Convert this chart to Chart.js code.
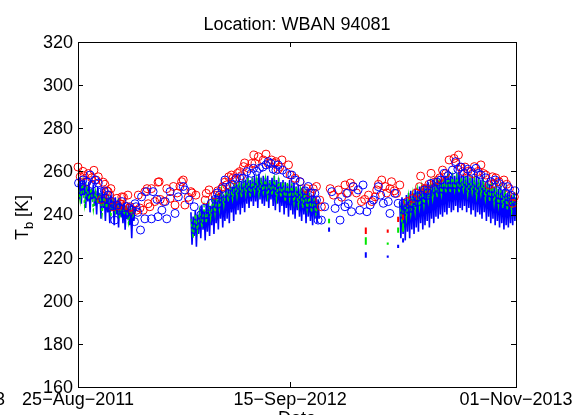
<!DOCTYPE html>
<html lang="en">
<head>
  <meta charset="UTF-8">
  <title>Location: WBAN 94081</title>
  <script src="https://cdn.jsdelivr.net/npm/chart.js"></script>
  <style>
    body { margin: 0; background: #fff; }
    #tbChart { display: block; }
  </style>
</head>
<body>
  <canvas id="tbChart" width="573" height="415"></canvas>
  <script>
    // days are counted from 25-Aug-2011, Tb in kelvin
    const xTickDays = [0, 387, 799];
    const xTickLabels = ['25−Aug−2011', '15−Sep−2012', '01−Nov−2013'];
    const yTicks = [160, 180, 200, 220, 240, 260, 280, 300, 320];

    // continuous record (blue), one value every 2 days, three runs
    const blueStep = 2;
    const blueStartA = 0, blueStartB = 206, blueStartC = 587;
    const blueTbA = [255, 247, 257, 245, 254, 249, 256, 243, 253, 246,
      255, 241, 252, 247, 254, 244, 251, 240, 253, 245,
      250, 238, 252, 243, 249, 237, 250, 241, 248, 236,
      249, 242, 247, 235, 248, 240, 246, 234, 247, 239,
      245, 236, 246, 233, 244, 238, 245, 235, 243, 229,
      244, 237, 243];
    const blueTbB = [241, 226, 239, 230, 242, 225, 240, 231,
      243, 229, 244, 233, 242, 228, 245, 232, 246, 230, 244, 235,
      248, 231, 249, 236, 247, 233, 250, 238, 251, 234, 249, 237,
      253, 238, 252, 236, 254, 241, 253, 237, 255, 240, 254, 242,
      256, 240, 255, 243, 257, 241, 256, 245, 258, 243, 256, 246,
      257, 244, 258, 246, 257, 243, 259, 247, 257, 245, 258, 244,
      257, 246, 258, 243, 256, 247, 257, 244, 258, 242, 256, 245,
      257, 241, 255, 244, 256, 240, 255, 243, 254, 239, 256, 242,
      254, 240, 255, 238, 253, 242, 254, 239, 252, 237, 253, 240,
      251, 236, 252, 239, 250, 237, 249, 235, 250, 238, 248, 236,
      247, 238];
    const blueTbC = [246, 229, 248, 231, 247, 228, 249, 232, 250, 229, 251, 233,
      250, 231, 252, 234, 251, 232, 253, 236, 252, 233, 254, 235,
      253, 237, 255, 234, 254, 238, 256, 236, 255, 239, 257, 238,
      256, 240, 258, 239, 257, 241, 258, 240, 259, 243, 258, 241,
      259, 242, 258, 244, 259, 241, 260, 243, 258, 242, 259, 244,
      258, 241, 259, 243, 257, 240, 258, 242, 257, 239, 258, 241,
      257, 240, 256, 238, 257, 241, 255, 237, 256, 239, 254, 236,
      255, 238, 253, 235, 254, 237, 252, 234, 253, 236, 251, 233,
      252, 235, 250, 234, 251, 236, 249, 235, 250, 237, 248];

    // green dashed record, one value every 4 days
    const greenStep = 4;
    const greenStartA = 0, greenStartB = 206, greenStartC = 587;
    const greenTbA = [254, 246, 255, 244, 253, 247, 252, 242, 251, 245,
      250, 240, 249, 243, 248, 239, 247, 241, 246, 238,
      245, 240, 244, 236, 243, 239, 242];
    const greenTbB = [238, 229, 240, 232, 242, 234, 244, 236, 246, 238, 248,
      240, 250, 242, 252, 244, 253, 246, 254, 247, 255, 248,
      256, 248, 256, 249, 257, 248, 256, 250, 257, 249, 256,
      250, 257, 248, 256, 249, 257, 247, 256, 248, 255, 246,
      255, 247, 254, 245, 253, 244, 252, 243, 251, 242, 249,
      241, 248, 240, 246];
    const greenTbC = [245, 236, 247, 238, 249, 240, 250, 241, 252, 243, 253,
      244, 254, 246, 255, 247, 256, 248, 257, 249, 257, 250,
      258, 250, 258, 251, 258, 250, 257, 251, 258, 249, 257,
      250, 257, 248, 256, 249, 256, 247, 255, 246, 255, 245,
      254, 244, 253, 243, 252, 242, 251, 241, 250, 243];

    // isolated days inside the data gap
    const spikeDays = [458, 525, 565, 584, 593];
    const redSpikeHi = [null, 234, 233, 239, 240];
    const redSpikeLo = [null, 231, 231.5, 236.5, 237.5];
    const greenSpikeHi = [238, 229.5, 227, 234, 236];
    const greenSpikeLo = [236, 226, 226, 231.5, 232];
    const blueSpikeHi = [234, 222.5, 221, 226, 229];
    const blueSpikeLo = [232, 220, 220, 224.5, 227];

    // red circles
    const redDays = [0, 4, 9, 11, 16, 19, 25, 29, 33, 37,
      43, 46, 49, 53, 55, 58, 60, 64, 71, 74,
      77, 80, 83, 86, 91, 93, 95, 98, 107, 110,
      113, 119, 122, 126, 128, 131, 134, 140, 146, 148,
      150, 156, 162, 168, 174, 177, 181, 186, 189, 192,
      195, 201, 206, 208, 215, 232, 234, 239, 250, 255,
      262, 264, 268, 271, 275, 280, 283, 286, 291, 295,
      298, 302, 304, 311, 317, 321, 323, 329, 338, 343,
      347, 353, 359, 361, 365, 368, 372, 384, 387, 396,
      405, 417, 423, 429, 435, 441, 444, 460, 466, 475,
      481, 487, 492, 497, 502, 508, 517, 523, 530, 536,
      542, 545, 548, 554, 560, 563, 569, 572, 577, 581,
      587, 601, 611, 617, 623, 625, 632, 636, 640, 644,
      650, 657, 660, 665, 671, 677, 686, 689, 694, 697,
      702, 706, 711, 720, 723, 730, 735, 740, 744, 750,
      756, 759, 762, 768, 777, 782, 787, 793, 796];
    const redTb = [262, 257.5, 260, 258, 255, 259, 257, 260.5, 256, 257.5,
      247, 255, 254, 251, 250.6, 249, 252, 243.6, 247.5, 244,
      245, 248.2, 248, 244, 249, 243, 243.6, 242, 242, 249,
      243, 242, 250.6, 252, 245, 243.6, 252, 246, 255, 255.2,
      247, 246, 252, 247.5, 253, 244.4, 250, 253, 255.2, 256,
      244.4, 248, 250.6, 250, 249, 246.7, 249.8, 251.4, 249, 251,
      252, 252.9, 255, 253.7, 257.5, 258.3, 257, 256, 259.1, 259.9,
      258, 262.2, 263.9, 261.4, 263.7, 267.6, 263.7, 266.8, 265.3, 268,
      263.7, 265.3, 263.7, 264.5, 261, 262, 265.3, 263, 258.3, 256.8,
      255.2, 252, 250, 252, 253, 246.7, 243.6, 252, 249, 251.4,
      248, 253.7, 250, 254.6, 253, 250, 246, 247, 249, 246,
      248.2, 251.4, 254, 256, 253, 250, 252, 255.2, 251, 249.8,
      253.7, 246, 247.5, 250, 252.9, 257.8, 252, 252, 254, 259.1,
      255, 256, 257, 260.6, 259, 265.3, 266, 263.7, 267.6, 262,
      259.9, 262, 260, 259, 262.2, 260, 263, 259, 258.3, 253.7,
      257.5, 254.4, 257, 255.2, 256, 254, 252, 245.2, 248.2];

    // blue circles
    const blueDays = [1, 7, 9, 16, 22, 26, 31, 37, 43, 48,
      50, 55, 61, 63, 67, 71, 75, 80, 86, 89,
      98, 103, 104, 106, 109, 114, 116, 122, 125, 134,
      137, 144, 146, 153, 159, 162, 168, 177, 183, 192,
      195, 203, 212, 224, 230, 243, 250, 254, 258, 263,
      268, 277, 282, 289, 295, 300, 308, 316, 320, 326,
      331, 337, 343, 347, 352, 356, 361, 365, 373, 381,
      390, 396, 405, 414, 420, 426, 432, 435, 438, 444,
      450, 463, 469, 475, 478, 487, 490, 493, 499, 502,
      511, 514, 520, 527, 533, 539, 548, 552, 557, 566,
      569, 578, 584, 593, 600, 609, 619, 626, 632, 638,
      644, 650, 655, 662, 668, 675, 683, 689, 693, 699,
      705, 711, 717, 726, 730, 735, 744, 753, 761, 768,
      775, 780, 784, 790, 793, 797];
    const blueTb = [254.6, 253.7, 256, 255.2, 258.3, 254, 256, 254.6, 250.6, 251,
      247.5, 249, 246, 244, 237.4, 244.4, 243, 246, 239.8, 243.6,
      242, 236.7, 245, 243.6, 241, 232.8, 248.2, 238, 250.6, 238,
      250.6, 247, 239, 242, 246, 238, 250.6, 240.5, 248.2, 253,
      251.4, 246.7, 243.6, 239.8, 242.8, 245.2, 247, 250, 249, 252,
      256, 253, 254, 256.8, 257, 256.8, 259.9, 259.1, 261.4, 260,
      261.4, 262, 263, 264.5, 263.7, 261, 260.5, 263, 260.6, 259,
      258.3, 256, 255.2, 251, 253, 250, 249.8, 246.7, 237.4, 237.4,
      243.6, 250.6, 242.8, 246, 237.4, 243.6, 249.8, 245, 241.3, 252.9,
      251.4, 242, 253.7, 241.3, 244.4, 246.7, 252.9, 249, 245.2, 246,
      240.5, 249.8, 245.2, 245.2, 242.8, 245, 248.2, 249, 251.4, 250,
      254.4, 252, 255, 256, 259.1, 258, 260.6, 264.5, 261, 262,
      259.1, 261, 260, 261.4, 259, 258.3, 257, 255.2, 256, 254.4,
      253, 250, 252.9, 249, 246, 251];

    const FONT = '"Liberation Sans", Arial, Helvetica, sans-serif';

    function runPoints(runs) {
      const pts = [];
      runs.forEach(([start, step, values]) => {
        values.forEach((v, i) => pts.push({ x: start + i * step, y: v }));
        pts.push({ x: pts[pts.length - 1].x, y: null });
      });
      return pts;
    }

    function spikePoints(hi, lo) {
      const pts = [];
      spikeDays.forEach((d, i) => {
        if (hi[i] == null) return;
        pts.push({ x: d, y: hi[i] }, { x: d, y: lo[i] }, { x: d, y: null });
      });
      return pts;
    }

    function circlePoints(days, values) {
      return days.map((d, i) => ({ x: d, y: values[i] }));
    }

    // frame, inward ticks and all the text, MATLAB style
    const axesFrame = {
      id: 'axesFrame',
      afterDraw(chart) {
        const { ctx, chartArea: a, scales: { x, y } } = chart;
        ctx.save();
        ctx.strokeStyle = '#000';
        ctx.lineWidth = 1;
        ctx.strokeRect(a.left + 0.5, a.top + 0.5, a.right - a.left, a.bottom - a.top);
        ctx.beginPath();
        yTicks.forEach(v => {
          const py = Math.round(y.getPixelForValue(v)) + 0.5;
          ctx.moveTo(a.left, py); ctx.lineTo(a.left + 5, py);
          ctx.moveTo(a.right, py); ctx.lineTo(a.right - 5, py);
        });
        xTickDays.forEach(d => {
          const px = Math.round(x.getPixelForValue(d)) + 0.5;
          ctx.moveTo(px, a.bottom); ctx.lineTo(px, a.bottom - 5);
          ctx.moveTo(px, a.top); ctx.lineTo(px, a.top + 5);
        });
        ctx.stroke();

        ctx.fillStyle = '#000';
        ctx.font = '18px ' + FONT;
        ctx.textAlign = 'right';
        ctx.textBaseline = 'middle';
        yTicks.forEach(v => ctx.fillText(String(v), a.left - 5, y.getPixelForValue(v) + 1));

        ctx.textAlign = 'center';
        ctx.textBaseline = 'top';
        xTickDays.forEach((d, i) => ctx.fillText(xTickLabels[i], x.getPixelForValue(d), a.bottom + 4));
        ctx.textAlign = 'right';
        ctx.fillText('3', 5, a.bottom + 4);
        ctx.textAlign = 'center';
        ctx.fillText('Date', (a.left + a.right) / 2, a.bottom + 23);

        ctx.textBaseline = 'alphabetic';
        ctx.fillText('Location: WBAN 94081', (a.left + a.right) / 2, 30);

        // y label with subscript
        ctx.translate(28, (a.top + a.bottom) / 2 + 3);
        ctx.rotate(-Math.PI / 2);
        ctx.textAlign = 'left';
        const big = '18px ' + FONT, small = '13px ' + FONT;
        ctx.font = big;
        const wT = ctx.measureText('T').width, wK = ctx.measureText(' [K]').width;
        ctx.font = small;
        const wb = ctx.measureText('b').width;
        const sx = -(wT + wb + wK) / 2;
        ctx.font = big; ctx.fillText('T', sx, 0);
        ctx.font = small; ctx.fillText('b', sx + wT, 5);
        ctx.font = big; ctx.fillText(' [K]', sx + wT + wb, 0);
        ctx.restore();
      }
    };

    const lineBase = { type: 'line', showLine: true, pointRadius: 0, spanGaps: false, tension: 0, fill: false };
    const circleBase = { pointStyle: 'circle', pointRadius: 4, pointBorderWidth: 1, pointBackgroundColor: 'rgba(0,0,0,0)', showLine: false, clip: false };

    new Chart(document.getElementById('tbChart'), {
      type: 'scatter',
      data: {
        datasets: [
          { ...circleBase, label: 'blue circles', data: circlePoints(blueDays, blueTb), pointBorderColor: '#0000ff', order: 1 },
          { ...circleBase, label: 'red circles', data: circlePoints(redDays, redTb), pointBorderColor: '#ff0000', order: 2 },
          { ...lineBase, label: 'red gap', data: spikePoints(redSpikeHi, redSpikeLo), borderColor: '#ff0000', borderWidth: 2, order: 3 },
          { ...lineBase, label: 'green gap', data: spikePoints(greenSpikeHi, greenSpikeLo), borderColor: '#00e600', borderWidth: 2, order: 3 },
          { ...lineBase, label: 'blue gap', data: spikePoints(blueSpikeHi, blueSpikeLo), borderColor: '#0000ff', borderWidth: 2, order: 3 },
          { ...lineBase, label: 'green', borderColor: '#00e600', borderWidth: 1.3, borderDash: [3, 2], order: 4,
            data: runPoints([[greenStartA, greenStep, greenTbA], [greenStartB, greenStep, greenTbB], [greenStartC, greenStep, greenTbC]]) },
          { ...lineBase, label: 'blue', borderColor: '#0000ff', borderWidth: 1.6, order: 5,
            data: runPoints([[blueStartA, blueStep, blueTbA], [blueStartB, blueStep, blueTbB], [blueStartC, blueStep, blueTbC]]) }
        ]
      },
      options: {
        responsive: false,
        animation: false,
        devicePixelRatio: 1,
        layout: { padding: { left: 78, right: 57, top: 42, bottom: 28 } },
        plugins: { legend: { display: false }, tooltip: { enabled: false } },
        scales: {
          x: { type: 'linear', min: 0, max: 799, display: false },
          y: { type: 'linear', min: 160, max: 320, display: false }
        }
      },
      plugins: [axesFrame]
    });
  </script>
</body>
</html>
